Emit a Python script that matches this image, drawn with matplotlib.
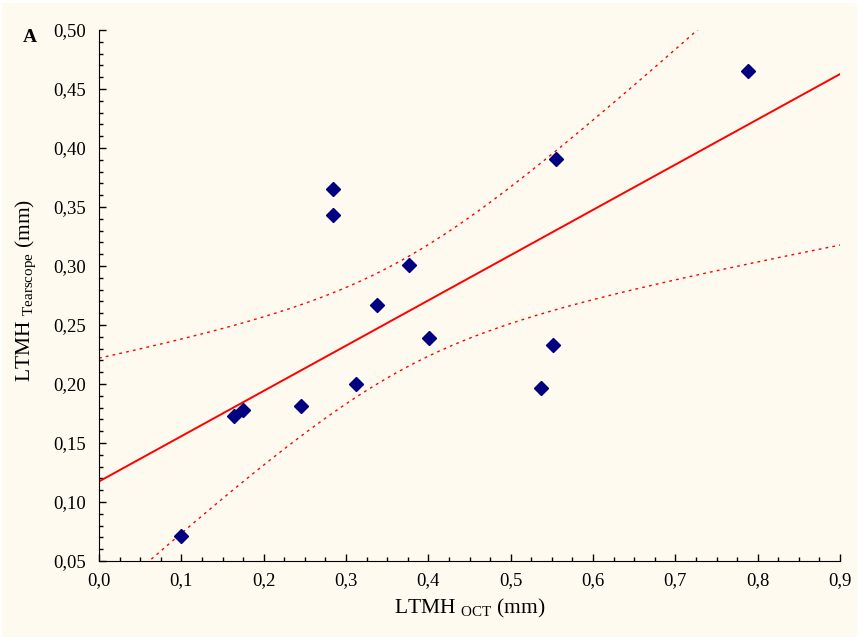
import numpy as np
import matplotlib
matplotlib.use("Agg")
from matplotlib import pyplot as plt
from matplotlib.ticker import MultipleLocator, FuncFormatter
from matplotlib.patches import Rectangle

plt.rcParams['font.family'] = ['Liberation Serif', 'DejaVu Serif']
plt.rcParams['mathtext.fontset'] = 'custom'
plt.rcParams['mathtext.rm'] = 'Liberation Serif'

# LTMH measured by OCT vs. Tearscope (mm)
ltmh_oct = [0.100, 0.164, 0.175, 0.245, 0.284, 0.284, 0.312,
            0.338, 0.3765, 0.401, 0.537, 0.551, 0.555, 0.788]
ltmh_tearscope = [0.071, 0.173, 0.178, 0.181, 0.365, 0.343, 0.200,
                  0.267, 0.301, 0.239, 0.197, 0.233, 0.391, 0.465]
t_crit = 2.1788  # t(0.975, df=12)

x = np.array(ltmh_oct)
y = np.array(ltmh_tearscope)
n = len(x)
slope, intercept = np.polyfit(x, y, 1)
resid = y - (slope * x + intercept)
s = np.sqrt(np.sum(resid ** 2) / (n - 2))
sxx = np.sum((x - x.mean()) ** 2)

xs = np.linspace(0.0, 0.9, 400)
fit = slope * xs + intercept
half = t_crit * s * np.sqrt(1.0 / n + (xs - x.mean()) ** 2 / sxx)

bg = '#fefaf0'
fig = plt.figure(figsize=(8.59, 6.39), dpi=100, facecolor='white')
fig.patches.append(Rectangle((2 / 859, 0.003), 1 - 4 / 859, 1 - 3 / 639 - 0.003,
                             transform=fig.transFigure, facecolor=bg,
                             edgecolor='none', zorder=-10))
ax = fig.add_axes([99 / 859, 1 - 561 / 639, 741 / 859, 531 / 639])
ax.set_facecolor(bg)

ax.plot(xs, fit, color='red', lw=1.4)
ax.plot(xs, fit + half, color='red', lw=1.0, ls=(0, (2, 3)))
ax.plot(xs, fit - half, color='red', lw=1.0, ls=(0, (2, 3)))
ax.plot(x, y, ls='none', marker='D', ms=7, color='#000080', mec='#000080')

ax.set_xlim(0.0, 0.9)
ax.set_ylim(0.05, 0.50)
for side in ('top', 'right'):
    ax.spines[side].set_visible(False)
ax.xaxis.set_major_locator(MultipleLocator(0.1))
ax.xaxis.set_minor_locator(MultipleLocator(0.025))
ax.yaxis.set_major_locator(MultipleLocator(0.05))
ax.yaxis.set_minor_locator(MultipleLocator(0.01))
ax.xaxis.set_major_formatter(FuncFormatter(lambda v, p: f"{v:.1f}".replace('.', ',')))
ax.yaxis.set_major_formatter(FuncFormatter(lambda v, p: f"{v:.2f}".replace('.', ',')))
ax.tick_params(which='both', direction='in', labelsize=13.5, color='black')
ax.tick_params(which='major', length=5, width=1)
ax.tick_params(which='minor', length=3, width=1)
ax.tick_params(axis='y', pad=9)
ax.tick_params(axis='x', pad=8)

ax.set_xlabel(r"LTMH $_{\mathrm{OCT}}$ (mm)", fontsize=15.5, labelpad=6)
ax.set_ylabel(r"LTMH $_{\mathrm{Tearscope}}$ (mm)", fontsize=15.5)
ax.yaxis.set_label_coords(-0.081, 0.51)
fig.text(30 / 859, 1 - 37 / 639, "A", fontsize=14, fontweight='bold',
         ha='center', va='center')

fig.savefig("out.png", dpi=100, facecolor='white')
